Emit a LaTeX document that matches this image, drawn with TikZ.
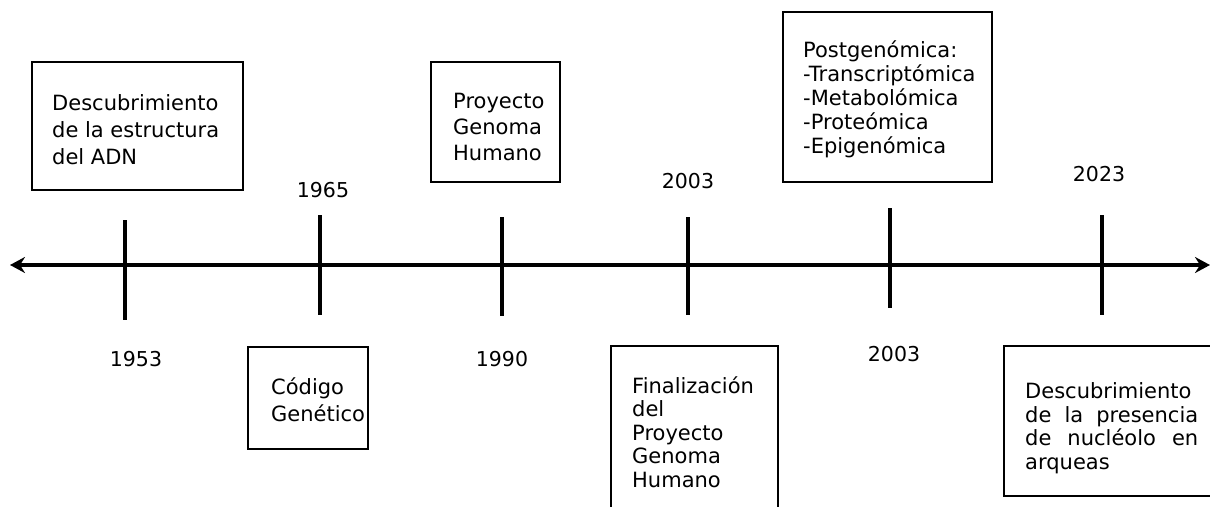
\documentclass[tikz,border=0pt]{standalone}
\usepackage{fontspec}
\setmainfont{DejaVu Sans}
\usetikzlibrary{arrows.meta}
\tikzset{
  evbox/.style={draw=black, line width=1.6pt},
  evtext/.style={anchor=base west, inner sep=0pt, align=left},
  yeartext/.style={anchor=base, inner sep=0pt, font=\fontsize{20.5}{24}\selectfont},
  tickline/.style={line width=3.2pt},
  axisline/.style={line width=3.2pt, {Stealth[length=15pt,width=16pt,inset=5pt]}-{Stealth[length=15pt,width=16pt,inset=5pt]}}
}
\begin{document}
\begin{tikzpicture}[x=1pt,y=-1pt]
\useasboundingbox (0,0) rectangle (1210,506);
\clip (0,0) rectangle (1210,506);
% axis
\coordinate (axL) at (10,265);
\coordinate (axR) at (1210,265);
\draw[axisline] (axL) -- (axR);
% ticks
\draw[tickline] (125,220) -- (125,320);
\draw[tickline] (320,215) -- (320,315);
\draw[tickline] (502,217) -- (502,316);
\draw[tickline] (688,217) -- (688,315);
\draw[tickline] (890,208) -- (890,308);
\draw[tickline] (1102,215) -- (1102,315);
% boxes (base anchor = baseline of the last line)
\draw[evbox] (32,62) rectangle (243,190);
\node[evtext, font=\fontsize{21}{27}\selectfont] (t1) at (52,164) {Descubrimiento\\de la estructura\\del ADN};
\draw[evbox] (248,347) rectangle (368,449);
\node[evtext, font=\fontsize{21}{27}\selectfont] (t2) at (271,421) {Código\\Genético};
\draw[evbox] (431,62) rectangle (560,182);
\node[evtext, font=\fontsize{21}{26}\selectfont] (t3) at (453,160) {Proyecto\\Genoma\\Humano};
\draw[evbox] (611,346) rectangle (778,530);
\node[evtext, font=\fontsize{21}{23.5}\selectfont] (t4) at (632,487) {Finalización\\del\\Proyecto\\Genoma\\Humano};
\draw[evbox] (783,12) rectangle (992,182);
\begin{scope}
\clip (783,0) rectangle (992,160);
\node[evtext, font=\fontsize{21}{24}\selectfont] (t5) at (803,153) {Postgenómica:\\-Transcriptómica\\-Metabolómica\\-Proteómica\\-Epigenómica};
\end{scope}
\draw[evbox] (1004,346) rectangle (1230,496);
\node[evtext, font=\fontsize{21}{23.5}\selectfont] (t6) at (1025,469) {Descubrimiento\\\makebox[173pt][s]{de la presencia}\\\makebox[173pt][s]{de nucléolo en}\\arqueas};
% years
\node[yeartext] (y1) at (136,366) {1953};
\node[yeartext] (y2) at (323,197) {1965};
\node[yeartext] (y3) at (502,366) {1990};
\node[yeartext] (y4) at (688,188) {2003};
\node[yeartext] (y5) at (894,361) {2003};
\node[yeartext] (y6) at (1099,181) {2023};
\end{tikzpicture}
\end{document}
